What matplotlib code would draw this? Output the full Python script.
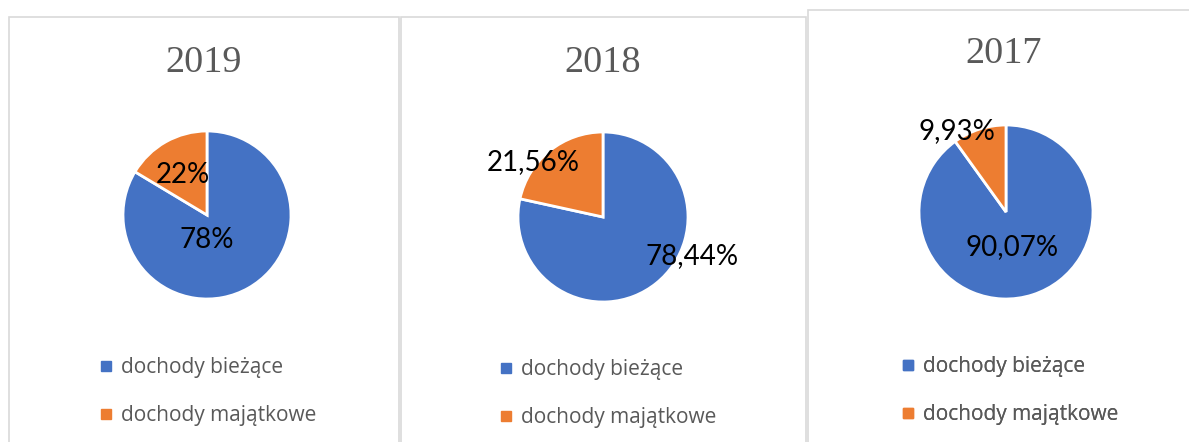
import matplotlib
matplotlib.use("Agg")
import matplotlib.pyplot as plt
from matplotlib.patches import Rectangle
from matplotlib.lines import Line2D

# ---- data ----
years = ["2019", "2018", "2017"]
categories = ["dochody bieżące", "dochody majątkowe"]
biezace = [83.6, 78.44, 90.07]      # drawn share of the blue slice
majatkowe = [16.4, 21.56, 9.93]     # drawn share of the orange slice
labels_biezace = ["78%", "78,44%", "90,07%"]
labels_majatkowe = ["22%", "21,56%", "9,93%"]

# ---- style / layout ----
W, H = 1189, 442
colors = ["#4472C4", "#ED7D31"]
text_grey = "#595959"
# panel boxes: (left, top, right)
panels = [(9, 17, 399), (401, 17, 806), (808, 10, 1200)]
pie_centers = [(207, 215), (603, 217), (1006, 212)]
pie_radii = [84, 85, 87]
title_pos = [(204, 63), (603, 63), (1004, 54)]
# label offsets relative to pie centre (dx, dy in px, dy downwards)
off_b = [(0, 25), (89, 39), (6, 35)]
off_m = [(-24, -40), (-70, -55), (-49, -81)]
legend_pos = [(100, 357), (500, 359), (902, 356)]

fig = plt.figure(figsize=(W / 100, H / 100), dpi=100)
ax = fig.add_axes([0, 0, 1, 1])

for i in range(3):
    l, t, r = panels[i]
    ax.add_patch(Rectangle((l, -10), r - l, (H - t) + 10, facecolor="white",
                           edgecolor="#D9D9D9", linewidth=1.2, zorder=0))
    cx, cy = pie_centers[i]
    wedges, _ = ax.pie([biezace[i], majatkowe[i]], colors=colors, startangle=90,
                       counterclock=False, center=(cx, H - cy), radius=pie_radii[i],
                       wedgeprops=dict(edgecolor="white", linewidth=2.0),
                       frame=True)
    for w in wedges:
        w.set_zorder(2)
    tx, ty = title_pos[i]
    ax.text(tx, H - ty, years[i], ha="center", va="center", fontsize=27.5,
            family="Liberation Serif", color=text_grey, zorder=3)
    dx, dy = off_b[i]
    ax.text(cx + dx, H - (cy + dy), labels_biezace[i], ha="center", va="center",
            fontsize=20, family="Lato", color="black", zorder=3)
    dx, dy = off_m[i]
    ax.text(cx + dx, H - (cy + dy), labels_majatkowe[i], ha="center", va="center",
            fontsize=20, family="Lato", color="black", zorder=3)
    handles = [Line2D([], [], marker="s", linestyle="none", markersize=6.5,
                      markerfacecolor=c, markeredgecolor=c) for c in colors]
    lx, ly = legend_pos[i]
    leg = ax.legend(handles, categories, loc="upper left",
                    bbox_to_anchor=(lx, H - ly), bbox_transform=ax.transData,
                    frameon=False, prop={"family": "Open Sans", "size": 15},
                    labelcolor=text_grey, handlelength=0.6, handletextpad=0.4,
                    labelspacing=1.3, borderpad=0, borderaxespad=0)
    ax.add_artist(leg)

ax.set_xlim(0, W)
ax.set_ylim(0, H)
ax.set_aspect("equal")
ax.axis("off")
fig.savefig("out.png", dpi=100, facecolor="white")
